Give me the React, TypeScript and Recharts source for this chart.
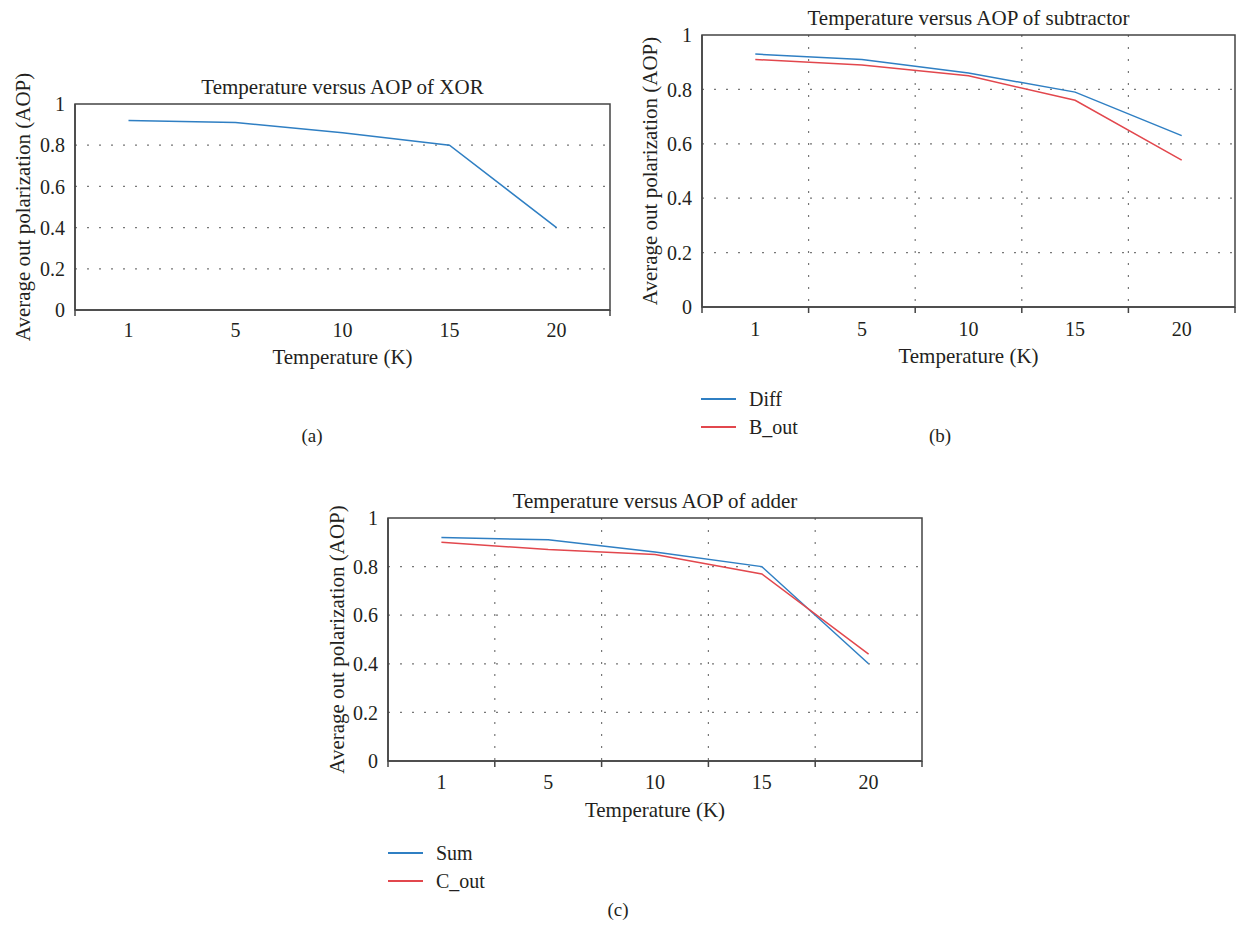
import { LineChart, Line, XAxis, YAxis, CartesianGrid, ReferenceArea, Legend } from "recharts";

// temperatures (K) along the x axis
const temps = ["1", "5", "10", "15", "20"];

// average output polarization
const xorAop = [0.92, 0.91, 0.86, 0.8, 0.4];
const diffAop = [0.93, 0.91, 0.86, 0.79, 0.63];
const bOutAop = [0.91, 0.89, 0.85, 0.76, 0.54];
const sumAop = [0.92, 0.91, 0.86, 0.8, 0.4];
const cOutAop = [0.9, 0.87, 0.85, 0.77, 0.44];

const yTicks = [0, 0.2, 0.4, 0.6, 0.8, 1];
const gridY = [0.2, 0.4, 0.6, 0.8];
const gridX = [0.5, 1.5, 2.5, 3.5];
const xTicks = [-0.5, 0, 0.5, 1, 1.5, 2, 2.5, 3, 3.5, 4, 4.5];

const BLUE = "#2f7fc3";
const RED = "#e2474d";
const INK = "#231f20";
const AXIS = "#444";
const FONT = "'Liberation Serif', 'Times New Roman', serif";

type Series = { key: string; name: string; color: string; values: number[] };

function buildRows(series: Series[]) {
  return temps.map((t, i) => {
    const row: Record<string, number | string> = { idx: i, temp: t };
    series.forEach((s) => {
      row[s.key] = s.values[i];
    });
    return row;
  });
}

function makeTick(innerTicks: boolean, labelDy: number) {
  return (props: any) => {
    const { x, y, payload } = props;
    const v = payload.value as number;
    if (Number.isInteger(v)) {
      return (
        <text x={x} y={y + labelDy} textAnchor="middle" fontSize={20} fontFamily={FONT} fill={INK}>
          {temps[v]}
        </text>
      );
    }
    const edge = v === -0.5 || v === 4.5;
    if (!edge && !innerTicks) return <g />;
    return <line x1={x} x2={x} y1={y} y2={y + 6} stroke={AXIS} strokeWidth={1.5} />;
  };
}

// legend keeps the series order instead of recharts' alphabetical sort
function makeLegend(order: string[]) {
  return (props: any) => {
    const items = [...(props.payload || [])].sort(
      (a: any, b: any) => order.indexOf(a.value) - order.indexOf(b.value)
    );
    return (
      <div>
        {items.map((p: any) => (
          <div key={p.value} style={{ display: "flex", alignItems: "center", height: 28 }}>
            <span style={{ display: "inline-block", width: 35, height: 2, background: p.color, marginRight: 13 }} />
            <span style={{ fontFamily: FONT, fontSize: 20, color: INK, lineHeight: "28px" }}>{p.value}</span>
          </div>
        ))}
      </div>
    );
  };
}

interface PanelProps {
  title: string;
  series: Series[];
  left: number;
  top: number;
  width: number;
  height: number;
  margin: { top: number; right: number; bottom: number; left: number };
  xHeight: number;
  innerTicks: boolean;
  vGrid: boolean;
  labelDy: number;
  xLabelOffset: number;
  yLabelOffset: number;
  legendPos?: { left: number; top: number };
}

const Y_WIDTH = 60;

function Panel(p: PanelProps) {
  const rows = buildRows(p.series);
  const plotLeft = p.margin.left + Y_WIDTH;
  const plotW = p.width - plotLeft - p.margin.right;
  return (
    <div style={{ position: "absolute", left: p.left, top: p.top }}>
      <LineChart width={p.width} height={p.height} data={rows} margin={p.margin}>
        <text
          x={plotLeft + plotW / 2}
          y={p.margin.top - 10}
          textAnchor="middle"
          fontSize={21}
          fontFamily={FONT}
          fill={INK}
        >
          {p.title}
        </text>
        <CartesianGrid
          horizontalValues={gridY}
          verticalValues={gridX}
          vertical={p.vGrid}
          stroke="#777"
          strokeDasharray="2 10"
          strokeWidth={1.2}
        />
        <XAxis
          dataKey="idx"
          type="number"
          domain={[-0.5, 4.5]}
          ticks={xTicks}
          interval={0}
          height={p.xHeight}
          tickLine={false}
          tickSize={0}
          tickMargin={0}
          tick={makeTick(p.innerTicks, p.labelDy)}
          axisLine={{ stroke: AXIS, strokeWidth: 1.5 }}
          label={{
            value: "Temperature (K)",
            position: "insideTop",
            offset: p.xLabelOffset,
            fontSize: 21,
            fontFamily: FONT,
            fill: INK,
          }}
        />
        <YAxis
          domain={[0, 1]}
          ticks={yTicks}
          width={Y_WIDTH}
          tickLine={false}
          tickSize={0}
          tickMargin={10}
          tick={{ fontSize: 20, fontFamily: FONT, fill: INK }}
          axisLine={{ stroke: AXIS, strokeWidth: 1.5 }}
          label={{
            value: "Average out polarization (AOP)",
            angle: -90,
            position: "insideLeft",
            offset: p.yLabelOffset,
            fontSize: 21,
            fontFamily: FONT,
            fill: INK,
            style: { textAnchor: "middle" },
          }}
        />
        <ReferenceArea x1={-0.5} x2={4.5} y1={0} y2={1} fill="none" stroke={AXIS} strokeWidth={1.5} />
        {p.series.map((s) => (
          <Line
            key={s.key}
            type="linear"
            dataKey={s.key}
            name={s.name}
            stroke={s.color}
            strokeWidth={1.5}
            dot={false}
            activeDot={false}
            isAnimationActive={false}
          />
        ))}
        {p.legendPos && (
          <Legend
            layout="vertical"
            align="center"
            verticalAlign="middle"
            content={makeLegend(p.series.map((s) => s.name))}
            wrapperStyle={{ left: p.legendPos.left, top: p.legendPos.top, width: 160, height: 56 }}
          />
        )}
      </LineChart>
    </div>
  );
}

const captionStyle = (x: number, y: number): React.CSSProperties => ({
  position: "absolute",
  left: x,
  top: y - 12,
  transform: "translateX(-50%)",
  fontFamily: FONT,
  fontSize: 19,
  color: INK,
  lineHeight: "24px",
});

export default function App() {
  return (
    <div style={{ position: "absolute", left: 0, top: 0, width: 1236, height: 932, background: "#fff" }}>
      <Panel
        title="Temperature versus AOP of XOR"
        series={[{ key: "xor", name: "XOR", color: BLUE, values: xorAop }]}
        left={0}
        top={70}
        width={620}
        height={310}
        margin={{ top: 34, right: 10, bottom: 0, left: 15 }}
        xHeight={70}
        innerTicks={false}
        vGrid={false}
        labelDy={27}
        xLabelOffset={39}
        yLabelOffset={8}
      />
      <Panel
        title="Temperature versus AOP of subtractor"
        series={[
          { key: "diff", name: "Diff", color: BLUE, values: diffAop },
          { key: "bout", name: "B_out", color: RED, values: bOutAop },
        ]}
        left={630}
        top={0}
        width={606}
        height={450}
        margin={{ top: 35, right: 1, bottom: 70, left: 12 }}
        xHeight={73}
        innerTicks={true}
        vGrid={true}
        labelDy={29}
        xLabelOffset={41}
        yLabelOffset={8}
        legendPos={{ left: 71, top: 385 }}
      />
      <Panel
        title="Temperature versus AOP of adder"
        series={[
          { key: "sum", name: "Sum", color: BLUE, values: sumAop },
          { key: "cout", name: "C_out", color: RED, values: cOutAop },
        ]}
        left={310}
        top={470}
        width={630}
        height={430}
        margin={{ top: 48, right: 18, bottom: 66, left: 18 }}
        xHeight={73}
        innerTicks={true}
        vGrid={true}
        labelDy={28}
        xLabelOffset={41}
        yLabelOffset={9}
        legendPos={{ left: 78, top: 369 }}
      />
      <div style={captionStyle(312, 436)}>(a)</div>
      <div style={captionStyle(940, 436)}>(b)</div>
      <div style={captionStyle(618, 910)}>(c)</div>
    </div>
  );
}
